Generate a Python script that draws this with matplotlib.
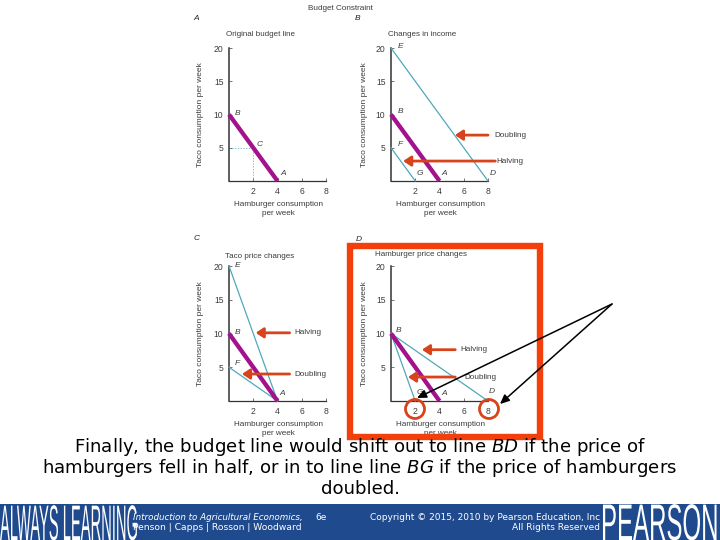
import matplotlib
matplotlib.use("Agg")
import matplotlib.pyplot as plt
from matplotlib.patches import Circle, Rectangle
from matplotlib.patheffects import AbstractPathEffect
from matplotlib.transforms import Affine2D

plt.rcParams["font.family"] = ["Liberation Sans", "DejaVu Sans"]

# data
x_ticks = [2, 4, 6, 8]
y_ticks = [5, 10, 15, 20]

original_x = [0, 4]
original_y = [10, 0]

income_double_x = [0, 8]
income_double_y = [20, 0]
income_half_x = [0, 2]
income_half_y = [5, 0]

taco_half_x = [0, 4]
taco_half_y = [20, 0]
taco_double_x = [0, 4]
taco_double_y = [5, 0]

burger_half_x = [0, 8]
burger_half_y = [10, 0]
burger_double_x = [0, 2]
burger_double_y = [10, 0]

point_c_x = [0, 2, 2]
point_c_y = [5, 5, 0]

caption_lines = [
    r"Finally, the budget line would shift out to line $\mathit{BD}$ if the price of",
    r"hamburgers fell in half, or in to line line $\mathit{BG}$ if the price of hamburgers",
    "doubled.",
]

PURPLE = "#a3128c"
TEAL = "#4fa9ba"
RED = "#d8431c"
FRAME = "#f23f0c"
BAND = "#1f4b8e"
GREY = "#3c3c3c"


class TallText(AbstractPathEffect):
    # pulls the banner lettering up from the bottom edge, text stays text
    def __init__(self, baseline_px, sy):
        super().__init__()
        self.baseline_px = baseline_px
        self.sy = sy

    def draw_path(self, renderer, gc, tpath, affine, rgbFace=None):
        t = affine + Affine2D().translate(0, -self.baseline_px).scale(1, self.sy)
        renderer.draw_path(gc, tpath, t, rgbFace)


fig = plt.figure(figsize=(7.2, 5.4), dpi=100, facecolor="white")


def make_panel(left, right, top, bottom, letter, letter_xy, title, title_xy, label_xy):
    ax = fig.add_axes([left / 720, 1 - bottom / 540, (right - left) / 720, (bottom - top) / 540])
    ax.patch.set_alpha(0)
    ax.set_xlim(0, 8)
    ax.set_ylim(0, 20)
    ax.set_xticks(x_ticks)
    ax.set_yticks(y_ticks)
    ax.tick_params(axis="both", direction="in", length=2.5, width=0.5, color=GREY,
                   labelsize=6.2, labelcolor=GREY, pad=4)
    ax.spines["top"].set_visible(False)
    ax.spines["right"].set_visible(False)
    ax.spines["left"].set_linewidth(1.1)
    ax.spines["bottom"].set_linewidth(0.9)
    ax.spines["left"].set_color("#333333")
    ax.spines["bottom"].set_color("#333333")
    fig.text(letter_xy[0] / 720, 1 - letter_xy[1] / 540, letter, fontsize=6, style="italic",
             color="#222222", ha="center", va="center")
    fig.text(title_xy[0] / 720, 1 - title_xy[1] / 540, title, fontsize=5.8, color=GREY,
             ha="left", va="center")
    fig.text((left + right) / 2 / 720 + 0.001, 1 - label_xy[0] / 540,
             "Hamburger consumption\nper week", fontsize=5.9, color=GREY, ha="center",
             va="center", linespacing=1.3)
    fig.text(label_xy[1] / 720, 1 - (top + bottom) / 2 / 540, "Taco consumption per week",
             fontsize=6.0, color=GREY, rotation=90, ha="center", va="center")
    return ax


def budget(ax, xs, ys, base=False):
    if base:
        ax.plot(xs, ys, color=PURPLE, lw=3.1, clip_on=False, solid_capstyle="butt", zorder=4)
    else:
        ax.plot(xs, ys, color=TEAL, lw=0.9, clip_on=False, zorder=3)


def red_arrow(ax, tail, tip, y, label=None, label_x=None):
    ax.annotate("", xy=(tip, y), xytext=(tail, y), annotation_clip=False, zorder=6,
                arrowprops=dict(arrowstyle="-|>,head_length=0.45,head_width=0.3", lw=2.0,
                                color=RED, shrinkA=0, shrinkB=0))
    if label:
        ax.text(label_x, y, label, fontsize=5.9, color=GREY, va="center", ha="left", clip_on=False)


def point(ax, x, y, name):
    ax.text(x, y, name, fontsize=6, style="italic", color=GREY, ha="center", va="center", clip_on=False)


# panel A
ax_a = make_panel(229, 326, 48, 181, "A", (196, 19), "Original budget line", (226, 35), (209, 201))
ax_a.plot(point_c_x, point_c_y, color=TEAL, lw=0.5, ls=(0, (2, 2)))
budget(ax_a, original_x, original_y, base=True)
point(ax_a, 0.7, 10.2, "B")
point(ax_a, 2.55, 5.5, "C")
point(ax_a, 4.5, 1.1, "A")

# panel B
ax_b = make_panel(391, 488, 48, 181, "B", (358, 19), "Changes in income", (388, 35), (209, 364))
budget(ax_b, income_double_x, income_double_y)
budget(ax_b, income_half_x, income_half_y)
budget(ax_b, original_x, original_y, base=True)
red_arrow(ax_b, 8.0, 5.27, 6.9, "Doubling", 8.5)
red_arrow(ax_b, 8.6, 1.0, 3.0, "Halving", 8.7)
point(ax_b, 0.75, 20.2, "E")
point(ax_b, 0.75, 10.5, "B")
point(ax_b, 0.75, 5.5, "F")
point(ax_b, 2.35, 1.2, "G")
point(ax_b, 4.4, 1.2, "A")
point(ax_b, 8.35, 1.2, "D")

# panel C
ax_c = make_panel(229, 326, 266, 401, "C", (197, 238), "Taco price changes", (225, 256), (429, 201))
budget(ax_c, taco_half_x, taco_half_y)
budget(ax_c, taco_double_x, taco_double_y)
budget(ax_c, original_x, original_y, base=True)
red_arrow(ax_c, 5.0, 2.2, 10.1, "Halving", 5.4)
red_arrow(ax_c, 5.0, 1.07, 4.0, "Doubling", 5.4)
point(ax_c, 0.7, 20.1, "E")
point(ax_c, 0.7, 10.2, "B")
point(ax_c, 0.7, 5.5, "F")
point(ax_c, 4.4, 1.1, "A")

# panel D
ax_d = make_panel(391, 488, 266, 401, "D", (359, 239), "Hamburger price changes", (375, 255), (429, 364))
budget(ax_d, burger_half_x, burger_half_y)
budget(ax_d, burger_double_x, burger_double_y)
budget(ax_d, original_x, original_y, base=True)
red_arrow(ax_d, 5.3, 2.55, 7.6, "Halving", 5.7)
red_arrow(ax_d, 5.3, 1.4, 3.55, "Doubling", 6.05)
point(ax_d, 0.6, 10.4, "B")
point(ax_d, 2.4, 1.2, "G")
point(ax_d, 4.4, 1.1, "A")
point(ax_d, 8.3, 1.4, "D")

# slide layer, in pixels
top = fig.add_axes([0, 0, 1, 1], zorder=10)
top.patch.set_alpha(0)
top.set_xlim(0, 720)
top.set_ylim(540, 0)
top.axis("off")

fig.text(340 / 720, 1 - 9 / 540, "Budget Constraint", fontsize=5.9, color=GREY, ha="center", va="center")

top.add_patch(Rectangle((350, 246), 189.5, 190.5, fill=False, ec=FRAME, lw=4.6, joinstyle="miter"))
top.add_patch(Circle((415, 409), 9.5, fill=False, ec=RED, lw=2.0))
top.add_patch(Circle((489, 409), 9.5, fill=False, ec=RED, lw=2.0))

for tip in [(417, 398), (500, 404)]:
    top.annotate("", xy=tip, xytext=(612, 304),
                 arrowprops=dict(arrowstyle="-|>,head_length=0.55,head_width=0.25", lw=1.1,
                                 color="black", shrinkA=0, shrinkB=0))

for line, y in zip(caption_lines, [447, 468, 489]):
    top.text(360, y, line, fontsize=13.03, family=["DejaVu Sans"], color="black", ha="center", va="center",
             math_fontfamily="dejavusans")

# footer band
top.add_patch(Rectangle((0, 504), 720, 36, fc=BAND, ec="none"))
top.text(0, 535, "ALWAYS LEARNING", fontsize=10.6, color="white", ha="left", va="baseline",
         path_effects=[TallText(5, 3.39)])
top.text(601, 533, "PEARSON", fontsize=17.3, color="white", ha="left", va="baseline",
         path_effects=[TallText(7, 2.14)])
top.text(133, 517, "Introduction to Agricultural Economics,", fontsize=6.35, family=["DejaVu Sans"], style="italic",
         color="white", va="center")
top.text(315, 517, "6e", fontsize=6.5, family=["DejaVu Sans"], color="white", va="center")
top.text(133, 528, "Penson | Capps | Rosson | Woodward", fontsize=6.6, family=["DejaVu Sans"], color="white", va="center")
top.text(600, 517, "Copyright © 2015, 2010 by Pearson Education, Inc", fontsize=6.5, family=["DejaVu Sans"],
         color="white", ha="right", va="center")
top.text(600, 528, "All Rights Reserved", fontsize=6.5, family=["DejaVu Sans"], color="white", ha="right", va="center")

fig.savefig("out.png", dpi=100)
